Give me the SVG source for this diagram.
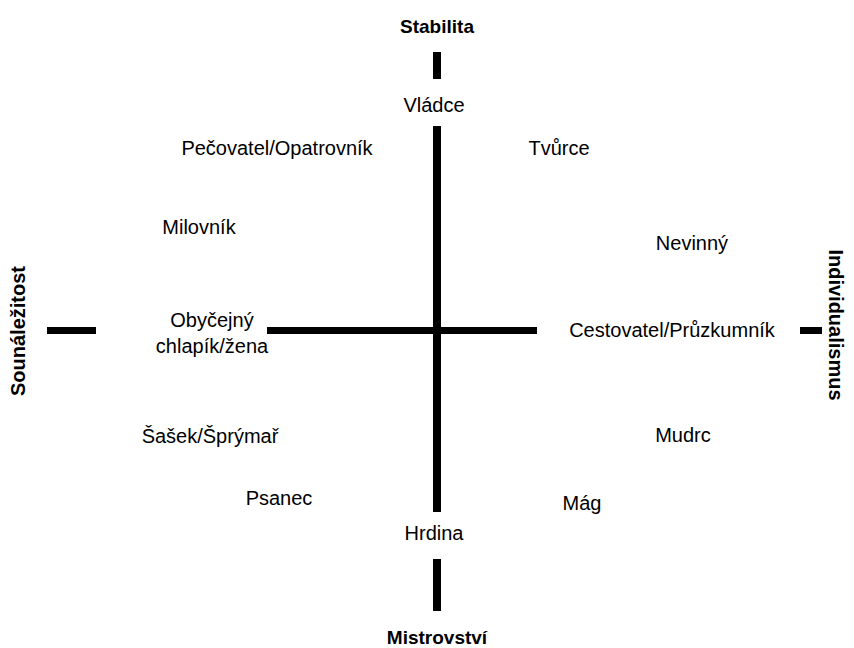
<svg xmlns="http://www.w3.org/2000/svg" width="854" height="648" viewBox="0 0 854 648">
<style>
text{font-family:"Liberation Sans",Arial,sans-serif;font-size:20px;fill:#000;text-anchor:middle}
.b{font-weight:bold;font-size:19px}
.r{font-size:20px}
.bar{fill:#000}
</style>
<rect width="854" height="648" fill="#fff"/>
<g id="connectors">
<rect class="bar" x="433" y="52" width="8" height="27"/>
<rect class="bar" x="433" y="126" width="8" height="386"/>
<rect class="bar" x="433" y="559" width="8" height="52"/>
<rect class="bar" x="47" y="327" width="49" height="7"/>
<rect class="bar" x="267" y="327" width="270" height="7"/>
<rect class="bar" x="800" y="327" width="22" height="7"/>
</g>
<g id="axis-top"><text class="b" x="437" y="33">Stabilita</text></g>
<g id="axis-bottom"><text class="b" x="437" y="644">Mistrovství</text></g>
<g id="axis-left"><text class="b r" transform="translate(25,331) rotate(-90)">Sounáležitost</text></g>
<g id="axis-right"><text class="b r" transform="translate(829,325) rotate(90)">Individualismus</text></g>
<g id="vladce"><text x="434" y="112">Vládce</text></g>
<g id="pecovatel"><text x="277" y="155">Pečovatel/Opatrovník</text></g>
<g id="tvurce"><text x="559" y="155">Tvůrce</text></g>
<g id="milovnik"><text x="199" y="234">Milovník</text></g>
<g id="nevinny"><text x="692" y="250">Nevinný</text></g>
<g id="obycejny"><text x="212" y="327">Obyčejný</text><text x="212" y="353">chlapík/žena</text></g>
<g id="cestovatel"><text x="672" y="337">Cestovatel/Průzkumník</text></g>
<g id="sasek"><text x="210" y="443">Šašek/Šprýmař</text></g>
<g id="mudrc"><text x="683" y="442">Mudrc</text></g>
<g id="psanec"><text x="279" y="505">Psanec</text></g>
<g id="mag"><text x="582" y="510">Mág</text></g>
<g id="hrdina"><text x="434" y="540">Hrdina</text></g>
</svg>
